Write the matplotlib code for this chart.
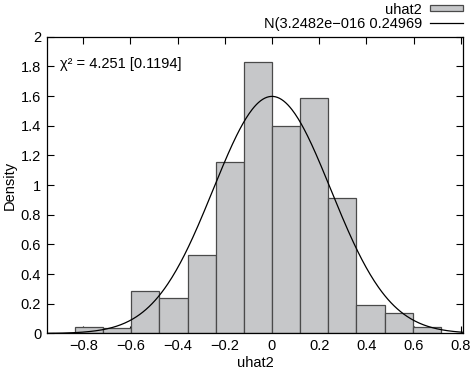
import numpy as np
import matplotlib
matplotlib.use("Agg")
import matplotlib.pyplot as plt
from matplotlib.patches import Rectangle
from matplotlib.lines import Line2D

plt.rcParams['font.family'] = ['Liberation Sans', 'DejaVu Sans']
plt.rcParams['axes.unicode_minus'] = True

# Histogram data (density)
bin_edges = [-0.836, -0.717, -0.597, -0.478, -0.358, -0.239, -0.119, 0.0,
             0.119, 0.239, 0.358, 0.478, 0.597, 0.717]
densities = [0.042, 0.040, 0.284, 0.237, 0.527, 1.156, 1.828, 1.396,
             1.589, 0.915, 0.190, 0.136, 0.042]

# Normal fit parameters (from legend)
norm_mean = 3.2482e-16
norm_sd = 0.24969

hist_label = "uhat2"
norm_label = "N(3.2482e\u2212016 0.24969"
chi_text = "\u03c7\u00b2 = 4.251 [0.1194]"

xticks = [-0.8, -0.6, -0.4, -0.2, 0, 0.2, 0.4, 0.6, 0.8]
yticks = [0, 0.2, 0.4, 0.6, 0.8, 1, 1.2, 1.4, 1.6, 1.8, 2]

W, H = 472, 371
FS = 10.5
bar_face = '#c6c7c9'
bar_edge = '#4a4a4a'

fig = plt.figure(figsize=(W / 100, H / 100), dpi=100)
ax = fig.add_axes([0.099, 0.1011, 0.882, 0.800])

edges = np.array(bin_edges)
widths = np.diff(edges)
ax.bar(edges[:-1], densities, width=widths, align='edge',
       color=bar_face, edgecolor=bar_edge, linewidth=0.9, zorder=2)

xlo, xhi = -0.955, 0.81
xs = np.linspace(xlo, xhi, 400)
pdf = np.exp(-0.5 * ((xs - norm_mean) / norm_sd) ** 2) / (norm_sd * np.sqrt(2 * np.pi))
ax.plot(xs, pdf, color='black', linewidth=0.9, zorder=3)

ax.set_xlim(xlo, xhi)
ax.set_ylim(0, 2)
ax.set_xticks(xticks)
ax.set_yticks(yticks)
ax.set_xticklabels([("\u2212" if v < 0 else "") + (f"{abs(v):g}") for v in xticks])
ax.set_yticklabels([f"{v:g}" for v in yticks])
ax.tick_params(direction='in', length=5, width=0.8, top=True, right=True,
               labelsize=FS, pad=4)
for s in ax.spines.values():
    s.set_linewidth(0.9)

ax.set_xlabel("uhat2", fontsize=FS, labelpad=2)
ax.set_ylabel("Density", fontsize=FS, labelpad=3)

ax.text(0.032, 0.908, chi_text, transform=ax.transAxes, fontsize=FS,
        ha='left', va='center')

# Legend drawn above the plot area, gnuplot style (text then sample)
def fx(px):
    return px / W

def fy(py):
    return 1 - py / H

fig.text(fx(422), fy(13.5), hist_label, fontsize=FS, ha='right', va='baseline')
fig.text(fx(422), fy(27.8), norm_label, fontsize=FS, ha='right', va='baseline')
fig.add_artist(Rectangle((fx(430), fy(10.5)), fx(462.5) - fx(430), fy(5) - fy(10.5),
                         transform=fig.transFigure, facecolor=bar_face,
                         edgecolor=bar_edge, linewidth=0.9))
fig.add_artist(Line2D([fx(430), fx(462.5)], [fy(22.7), fy(22.7)],
                      transform=fig.transFigure, color='black', linewidth=0.9))

fig.savefig("out.png", dpi=100)
